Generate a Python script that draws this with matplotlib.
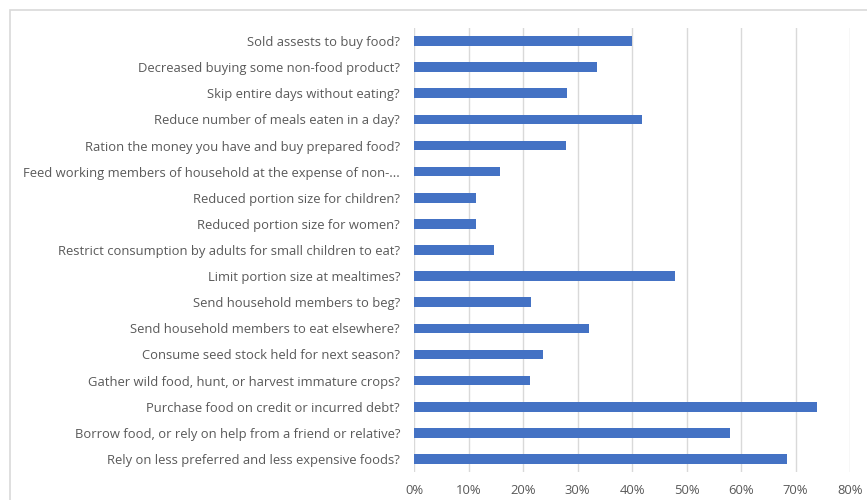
import matplotlib.pyplot as plt
from matplotlib.patches import Rectangle
from matplotlib.ticker import PercentFormatter

# coping strategies, listed top to bottom
strategies = [
    "Sold assests to buy food?",
    "Decreased buying some non-food product?",
    "Skip entire days without eating?",
    "Reduce number of meals eaten in a day?",
    "Ration the money you have and buy prepared food?",
    "Feed working members of household at the expense of non-...",
    "Reduced portion size for children?",
    "Reduced portion size for women?",
    "Restrict consumption by adults for small children to eat?",
    "Limit portion size at mealtimes?",
    "Send household members to beg?",
    "Send household members to eat elsewhere?",
    "Consume seed stock held for next season?",
    "Gather wild food, hunt, or harvest immature crops?",
    "Purchase food on credit or incurred debt?",
    "Borrow food, or rely on help from a friend or relative?",
    "Rely on less preferred and less expensive foods?",
]
share = [0.400, 0.336, 0.281, 0.419, 0.279, 0.158, 0.113, 0.113, 0.146,
         0.478, 0.215, 0.322, 0.236, 0.212, 0.739, 0.580, 0.684]
xticks = [0, 0.1, 0.2, 0.3, 0.4, 0.5, 0.6, 0.7, 0.8]

txt = '#595959'
plt.rcParams['font.family'] = ['Open Sans', 'DejaVu Sans']

fig = plt.figure(figsize=[8.67, 5.0], dpi=100)
ax = fig.add_axes([414/867, 28/500, (850-414)/867, (472-28)/500])

# chart frame
fig.patches.append(Rectangle((10/867, -0.1), 1.2, 1 - 10/500 + 0.1,
                             transform=fig.transFigure, fill=False,
                             edgecolor='#d9d9d9', linewidth=1.2))

pos = list(range(len(strategies)))
ax.barh(pos, share, height=0.37, color='#4472C4', zorder=3)
ax.set_ylim(len(strategies) - 0.5, -0.5)
ax.set_yticks(pos)
ax.set_yticklabels(strategies)

ax.set_xlim(0, 0.8)
ax.set_xticks(xticks)
ax.xaxis.set_major_formatter(PercentFormatter(1.0, decimals=0))
ax.grid(axis='x', color='#d9d9d9', linewidth=1.0, zorder=0)

for s in ax.spines.values():
    s.set_visible(False)
ax.tick_params(axis='both', length=0, colors=txt, labelsize=9.4)
ax.tick_params(axis='y', pad=10)
ax.tick_params(axis='x', pad=9)

fig.savefig('out.png', dpi=100)
